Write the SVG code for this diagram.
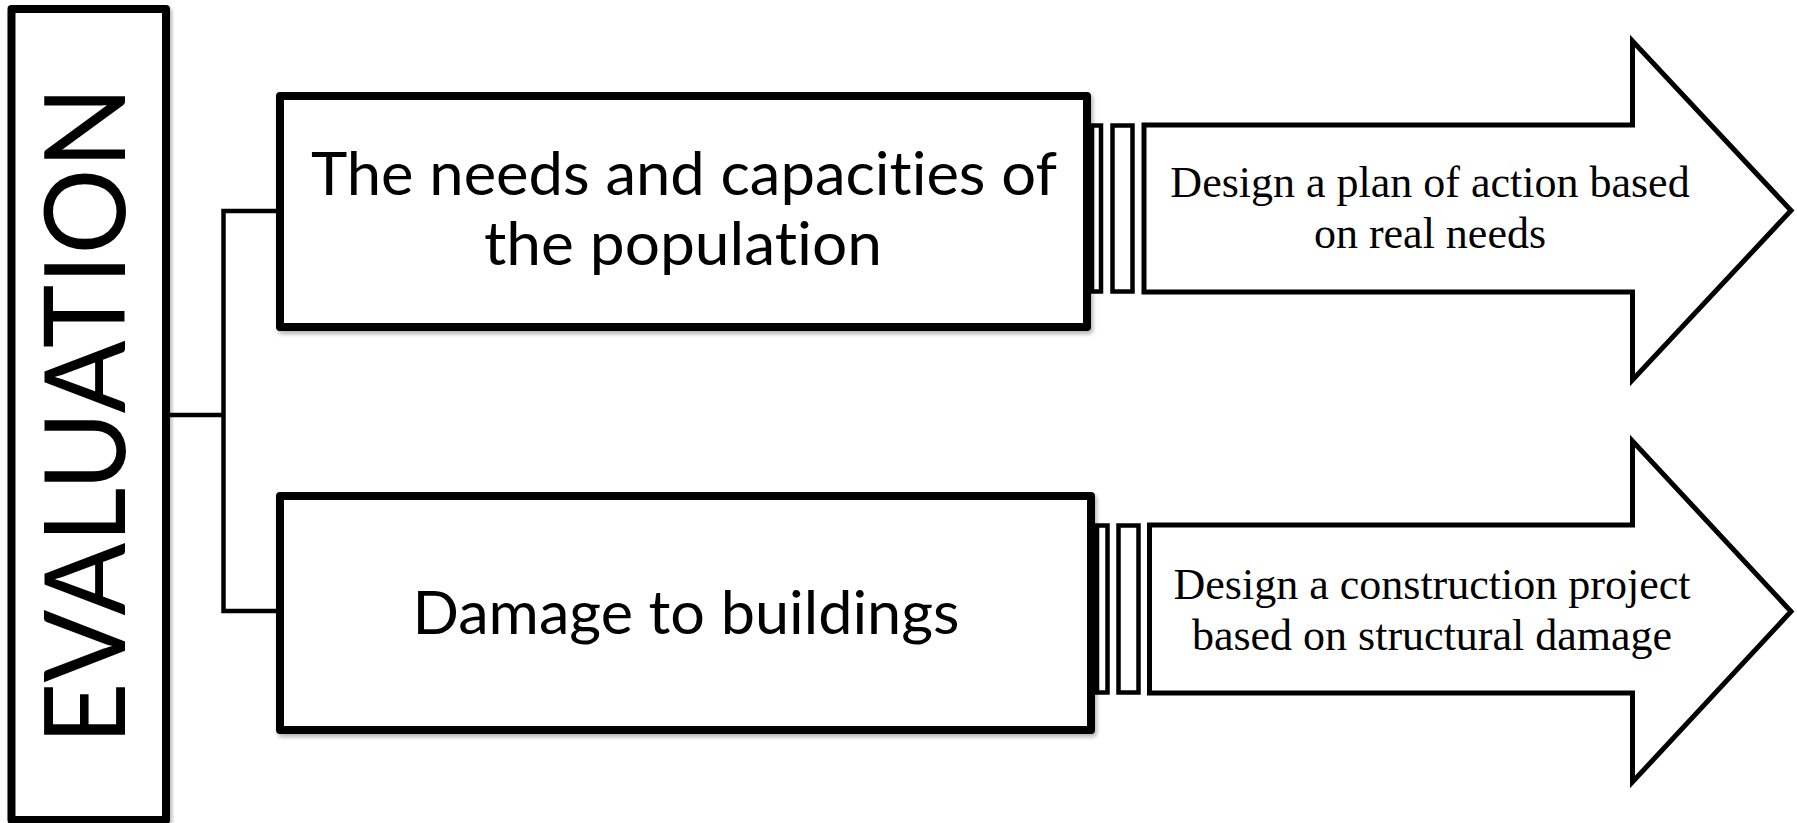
<svg xmlns="http://www.w3.org/2000/svg" width="1797" height="823" viewBox="0 0 1797 823">
  <defs>
    <filter id="shadow" x="-5%" y="-5%" width="110%" height="115%">
      <feGaussianBlur in="SourceAlpha" stdDeviation="2"/>
      <feOffset dx="2" dy="3" result="off"/>
      <feComponentTransfer><feFuncA type="linear" slope="0.3"/></feComponentTransfer>
      <feMerge><feMergeNode/><feMergeNode in="SourceGraphic"/></feMerge>
    </filter>
    <style>
      .box { fill: #fff; stroke: #000; stroke-width: 8; stroke-linejoin: round; filter: url(#shadow); }
      .arrow { fill: #fff; stroke: #000; stroke-width: 5; stroke-linejoin: miter; stroke-miterlimit: 10; }
      .stripe { fill: #fff; stroke: #000; stroke-width: 4.5; }
      .link { fill: none; stroke: #000; stroke-width: 4.5; }
      .sans { font-family: Lato, "Open Sans", "Liberation Sans", sans-serif; fill: #000; text-anchor: middle; font-variant-ligatures: none; font-feature-settings: "liga" 0, "clig" 0; }
      .serif { font-family: "Liberation Serif", "Times New Roman", serif; font-size: 44px; fill: #000; text-anchor: middle; }
    </style>
  </defs>
  <rect width="1797" height="823" fill="#fff"/>

  <!-- connectors: root to the two assessment boxes -->
  <g id="connectors">
    <path class="link" d="M170,415 H223.5 M223.5,211 V611 M221.25,211 H280 M221.25,611 H280"/>
  </g>

  <!-- outcome arrow for the population box -->
  <g id="arrow-plan">
    <path class="arrow" d="M1144,125 L1632.5,125 L1632.5,41 L1791,210.5 L1632.5,380 L1632.5,292 L1144,292 Z"/>
    <rect class="stripe" x="1092" y="125.5" width="9" height="166" stroke-width="4"/>
    <rect class="stripe" x="1112.5" y="125.5" width="20" height="166"/>
    <text class="serif" x="1430" y="197">Design a plan of action based</text>
    <text class="serif" x="1430" y="248">on real needs</text>
  </g>

  <!-- outcome arrow for the buildings box -->
  <g id="arrow-construction">
    <path class="arrow" d="M1149.5,525 L1632.5,525 L1632.5,441 L1791,611.5 L1632.5,782 L1632.5,693 L1149.5,693 Z"/>
    <rect class="stripe" x="1097" y="525.5" width="10.5" height="167"/>
    <rect class="stripe" x="1118.5" y="525.5" width="20" height="167" stroke-width="5"/>
    <text class="serif" x="1432" y="599">Design a construction project</text>
    <text class="serif" x="1432" y="650">based on structural damage</text>
  </g>

  <!-- root box -->
  <g id="evaluation">
    <rect class="box" x="11.5" y="9" width="154.5" height="811" stroke-width="7.5"/>
    <text class="sans" transform="translate(125,415.5) rotate(-90)" font-size="112" textLength="658" lengthAdjust="spacingAndGlyphs">EVALUATION</text>
  </g>

  <!-- assessment: population -->
  <g id="needs">
    <rect class="box" x="280" y="96" width="807" height="231"/>
    <text class="sans" x="684" y="195" font-size="60" textLength="746" lengthAdjust="spacingAndGlyphs">The needs and capacities of</text>
    <text class="sans" x="683" y="265" font-size="60" textLength="398" lengthAdjust="spacingAndGlyphs">the population</text>
  </g>

  <!-- assessment: buildings -->
  <g id="damage">
    <rect class="box" x="280" y="496" width="811" height="234"/>
    <text class="sans" x="686" y="634" font-size="60" textLength="547" lengthAdjust="spacingAndGlyphs">Damage to buildings</text>
  </g>
</svg>
